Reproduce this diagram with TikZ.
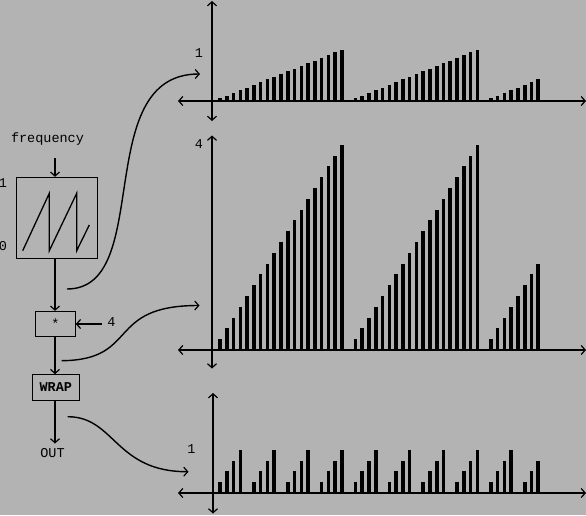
\documentclass[tikz,border=0pt]{standalone}
\usepackage{fontspec}
\setmonofont{Liberation Mono}
\usetikzlibrary{arrows.meta}
\definecolor{bg}{RGB}{179,179,179}
\begin{document}
\begin{tikzpicture}[x=1pt,y=-1pt,line width=1.2pt,
  font=\fontsize{13.5}{16}\selectfont\ttfamily,
  tipend/.style={-{Straight Barb[length=4pt,width=9pt,line width=1.2pt]}},
  tipboth/.style={{Straight Barb[length=4pt,width=9pt,line width=1.2pt]}-{Straight Barb[length=4pt,width=9pt,line width=1.2pt]}},
  boxnode/.style={draw,line width=0.9pt,inner sep=0pt},
  lbl/.style={inner sep=0pt},
  curve/.style={line width=1.4pt,tipend}]
\fill[bg] (0,0) rectangle (586,515);
\useasboundingbox (0,0) rectangle (586,515);

% ---- left flow ----
\node[lbl] (freq) at (47.5,139) {frequency};
\coordinate (freqarr) at (55,158);
\node[boxnode,minimum width=80.6pt,minimum height=80.7pt] (saw) at (57,217.6) {};
\node[lbl] (one) at (3,183) {1};
\node[lbl] (zero) at (3,246) {0};
\draw[line width=1.3pt] (22.7,250.7) -- (49.3,193.3) -- (49.3,250.7) -- (76.7,193.3) -- (76.7,250.7) -- (89.3,225);
\draw[tipend] (freqarr) -- (saw.north -| freqarr);

\node[boxnode,minimum width=39.6pt,minimum height=25.4pt] (mul) at (55.5,324) {*};
\node[lbl] (four) at (111.5,322) {4};
\coordinate (fourarr) at (102,324);
\draw[tipend] (fourarr) -- (mul.east |- fourarr);

\node[boxnode,minimum width=47pt,minimum height=25.3pt,font=\fontsize{13.5}{16}\selectfont\ttfamily\bfseries] (wrap) at (55.8,387.3) {WRAP};
\node[lbl] (out) at (52.5,453) {OUT};

\draw[tipend] (saw.south -| freqarr) -- (mul.north -| freqarr);
\draw[tipend] (mul.south -| freqarr) -- (wrap.north -| freqarr);
\draw[tipend] (wrap.south -| freqarr) -- (55,443.5);

% ---- axes ----
\coordinate (tl) at (178,101); \coordinate (tr) at (586,101);
\coordinate (tt) at (212,1); \coordinate (tb) at (212,121);
\coordinate (ml) at (178,350); \coordinate (mr) at (586,350);
\coordinate (mt) at (212,135.5); \coordinate (mb) at (212,368.5);
\coordinate (bl) at (178,493); \coordinate (br) at (586,493);
\coordinate (bt) at (213,393); \coordinate (bb) at (213,513.5);
\draw[tipboth] (tl) -- (tr);
\draw[tipboth] (tb) -- (tt);
\draw[tipboth] (ml) -- (mr);
\draw[tipboth] (mb) -- (mt);
\draw[tipboth] (bl) -- (br);
\draw[tipboth] (bb) -- (bt);
\node[lbl] (ta) at (199,53) {1};
\node[lbl] (ma) at (199,144) {4};
\node[lbl] (ba) at (191.5,449) {1};

% ---- bars ----
\foreach \k in {1,...,48}{
  \pgfmathsetmacro\xx{213.3+6.77*\k}
  \pgfmathsetmacro\va{mod(\k,20)/20}
  \pgfmathsetmacro\vb{mod(\k,5)/5}
  \fill (\xx-1.8,101) rectangle ++(3.6,-54*\va);
  \fill (\xx-1.8,350) rectangle ++(3.6,-216*\va);
  \fill (\xx-1.8,493) rectangle ++(3.6,-54*\vb);
}

% ---- connectors to graphs ----
\coordinate (c1s) at (67,289); \coordinate (c1e) at (200,74);
\coordinate (c2s) at (61.7,360.7); \coordinate (c2e) at (199.5,305.5);
\coordinate (c3s) at (67.7,416.7); \coordinate (c3e) at (188.5,471.7);
\draw[curve] (c1s) .. controls (155,289) and (90,74) .. (c1e);
\draw[curve] (c2s) .. controls (140,360) and (105,305.5) .. (c2e);
\draw[curve] (c3s) .. controls (115,416.7) and (115,471.7) .. (c3e);
\end{tikzpicture}
\end{document}
